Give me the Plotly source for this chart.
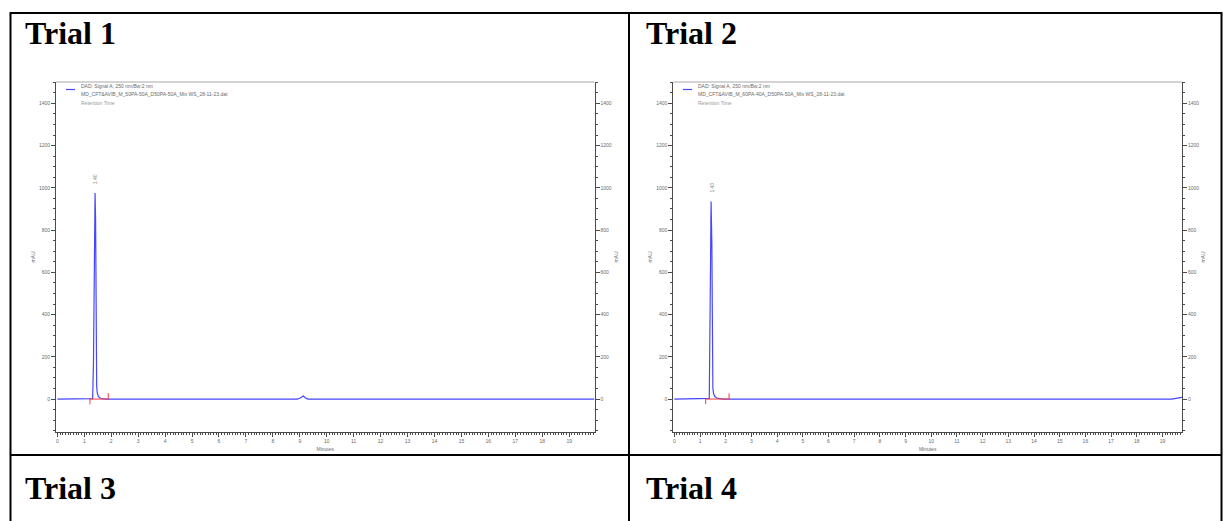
import plotly.graph_objects as go

# ---- chromatogram data (retention time in minutes, absorbance in mAU) ----
time_trial1 = [0.0, 1.25, 1.31, 1.34, 1.37, 1.40, 1.42, 1.44, 1.46, 1.48, 1.52, 1.58, 1.65, 1.80,
               8.90, 9.00, 9.08, 9.13, 9.20, 9.30, 19.94]
mau_trial1 = [0, 0, 2, 160, 860, 975, 850, 160, 60, 30, 12, 5, 2, 0,
              0, 4, 11, 14, 6, 0, 0]

time_trial2 = [0.0, 1.30, 1.36, 1.40, 1.43, 1.46, 1.48, 1.50, 1.53, 1.58, 1.65, 1.75, 1.90,
               19.35, 19.55, 19.70, 19.76]
mau_trial2 = [0, 0, 3, 520, 935, 740, 120, 50, 25, 12, 5, 2, 0,
              0, 4, 7, 8]

# integration baseline markers (start / end of the integrated peak)
base_time_trial1 = [1.21, 1.21, 1.89, 1.89]
base_mau_trial1 = [-25, 0, 0, 28]
base_time_trial2 = [1.22, 1.22, 2.13, 2.13]
base_mau_trial2 = [-24, 0, 0, 27]

peak_labels = ["1.40", "1.43"]
peak_times = [1.40, 1.43]
peak_heights = [975, 935]

panel_titles = ["Trial 1", "Trial 2", "Trial 3", "Trial 4"]
legend_signal = "DAD: Signal A, 250 nm/Bw:2 nm"
legend_files = ["MD_CFT&AVIB_M_50PA-50A_D50PA-50A_Mix WS_28-11-23.dat",
                "MD_CFT&AVIB_M_60PA-40A_D50PA-50A_Mix WS_28-11-23.dat"]
legend_extra = "Retention Time"

time_ranges = [[-0.05, 19.94], [-0.04, 19.76]]
mau_range = [-156, 1501]

W, H = 1229, 521


def fx(p):
    return p / W


def fy(p):
    return 1 - p / H


BLUE = "#4646ff"
RED = "#ff3b3b"
AXIS = "#4a4a4a"
TICKTXT = "#6a6a6a"
TICKFONT = dict(family="Liberation Sans, Arial", size=5, color=TICKTXT)

fig = go.Figure()

panels = [
    dict(x="x", y="y", yr="y3", t=time_trial1, v=mau_trial1, bt=base_time_trial1, bv=base_mau_trial1),
    dict(x="x2", y="y2", yr="y4", t=time_trial2, v=mau_trial2, bt=base_time_trial2, bv=base_mau_trial2),
]

for p in panels:
    fig.add_trace(go.Scatter(x=p["t"], y=p["v"], mode="lines", xaxis=p["x"], yaxis=p["y"],
                             line=dict(color=BLUE, width=1.2), showlegend=False, hoverinfo="skip"))
    fig.add_trace(go.Scatter(x=p["bt"], y=p["bv"], mode="lines", xaxis=p["x"], yaxis=p["yr"],
                             line=dict(color=RED, width=1), showlegend=False, hoverinfo="skip"))

x_domains = [[fx(56), fx(594.5)], [fx(673.3), fx(1182)]]
y_domain = [fy(432), fy(82)]


def x_axis(dom, rng, anchor):
    return dict(domain=dom, range=rng, anchor=anchor, showgrid=False, zeroline=False,
                showline=True, linecolor=AXIS, linewidth=1,
                ticks="outside", ticklen=4, tickcolor=AXIS, tickwidth=1,
                tick0=0, dtick=1, tickfont=TICKFONT,
                minor=dict(ticks="outside", dtick=0.1, ticklen=2, tickcolor=AXIS, showgrid=False),
                title=dict(text="Minutes", font=dict(family="Liberation Sans, Arial", size=5, color=TICKTXT),
                           standoff=4))


def y_axis(anchor, side="left", overlay=None, dom=None):
    d = dict(range=mau_range, anchor=anchor, side=side, showgrid=False, zeroline=False,
             showline=True, linecolor=AXIS, linewidth=1,
             ticks="outside", ticklen=4, tickcolor=AXIS, tickwidth=1,
             tick0=0, dtick=200, tickfont=TICKFONT,
             minor=dict(ticks="outside", dtick=50, ticklen=2, tickcolor=AXIS, showgrid=False),
             title=dict(text="mAU", font=dict(family="Liberation Sans, Arial", size=5, color=TICKTXT),
                        standoff=3))
    if overlay:
        d["overlaying"] = overlay
    if dom:
        d["domain"] = dom
    return d


fig.update_layout(
    width=W, height=H,
    margin=dict(l=0, r=0, t=0, b=0),
    paper_bgcolor="white", plot_bgcolor="white",
    xaxis=x_axis(x_domains[0], time_ranges[0], "y"),
    xaxis2=x_axis(x_domains[1], time_ranges[1], "y2"),
    yaxis=y_axis("x", "left", dom=y_domain),
    yaxis2=y_axis("x2", "left", dom=y_domain),
    yaxis3=y_axis("x", "right", overlay="y"),
    yaxis4=y_axis("x2", "right", overlay="y2"),
)

shapes = []
# table grid lines
LINE = dict(color="black", width=2)
shapes.append(dict(type="line", xref="paper", yref="paper", x0=fx(10), x1=fx(1222), y0=fy(13), y1=fy(13), line=LINE))
shapes.append(dict(type="line", xref="paper", yref="paper", x0=fx(10), x1=fx(1222), y0=fy(455), y1=fy(455), line=LINE))
shapes.append(dict(type="line", xref="paper", yref="paper", x0=fx(10.5), x1=fx(10.5), y0=fy(12), y1=0, line=LINE))
shapes.append(dict(type="line", xref="paper", yref="paper", x0=fx(629), x1=fx(629), y0=fy(12), y1=0, line=LINE))
shapes.append(dict(type="line", xref="paper", yref="paper", x0=fx(1221.5), x1=fx(1221.5), y0=fy(12), y1=0, line=LINE))

annotations = []
title_pos = [(23, 33), (644, 33), (23, 488), (644, 488)]
for txt, (tx, ty) in zip(panel_titles, title_pos):
    annotations.append(dict(text="<b>%s</b>" % txt, xref="paper", yref="paper", x=fx(tx), y=fy(ty),
                            xanchor="left", yanchor="middle", showarrow=False,
                            font=dict(family="Liberation Serif, Times New Roman", size=32, color="black")))

legend_x0 = [66, 683]
for i, (xa, ya) in enumerate([("x", "y"), ("x2", "y2")]):
    # plot-area top edge (light frame line)
    shapes.append(dict(type="line", xref="%s domain" % xa, yref="%s domain" % ya, x0=0, x1=1, y0=1, y1=1,
                       line=dict(color="#a8a8a8", width=1)))
    # legend swatch and text
    lx = legend_x0[i]
    shapes.append(dict(type="line", xref="paper", yref="paper", x0=fx(lx), x1=fx(lx + 9), y0=fy(89.5), y1=fy(89.5),
                       line=dict(color=BLUE, width=1.2)))
    for line_txt, ly, col in [(legend_signal, 86, "#6a6a6a"), (legend_files[i], 94, "#6a6a6a"),
                              (legend_extra, 103, "#9a9a9a")]:
        annotations.append(dict(text=line_txt, xref="paper", yref="paper", x=fx(lx + 13), y=fy(ly),
                                xanchor="left", yanchor="middle", showarrow=False,
                                font=dict(family="Liberation Sans, Arial", size=5, color=col)))
    # peak retention-time label
    annotations.append(dict(text=peak_labels[i], xref=xa, yref=ya, x=peak_times[i], y=peak_heights[i],
                            xanchor="center", yanchor="bottom", yshift=7, textangle=-90, showarrow=False,
                            font=dict(family="Liberation Sans, Arial", size=5, color="#8a8a8a")))

fig.update_layout(shapes=shapes, annotations=annotations)

fig.write_html("out.html")
